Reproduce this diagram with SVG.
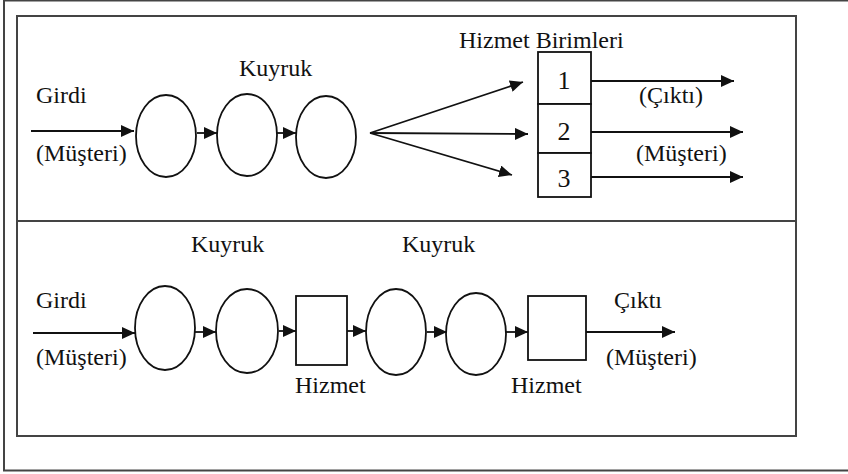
<svg xmlns="http://www.w3.org/2000/svg" width="848" height="474" viewBox="0 0 848 474">
<style>
.t{font-family:"Liberation Serif","Times New Roman",serif;font-size:24px;fill:#111}
.d{font-family:"Liberation Serif","Times New Roman",serif;font-size:26px;fill:#111;text-anchor:middle}
.s{fill:#fff;stroke:#111;stroke-width:1.8}
.c{fill:none;stroke:#111;stroke-width:1.8}
.f{fill:none;stroke:#444;stroke-width:2}
</style>
<defs>
<marker id="ah" viewBox="0 0 13 12" refX="13" refY="6" markerWidth="13" markerHeight="12" markerUnits="userSpaceOnUse" orient="auto">
<path d="M0,0 L13,6 L0,12 Z" fill="#111"/>
</marker>
</defs>
<rect width="848" height="474" fill="#fff"/>
<g id="frames">
<rect class="f" x="4" y="0.5" width="870" height="470"/>
<rect class="f" x="17" y="16" width="779" height="420" stroke="#222"/>
<line class="f" x1="17" y1="221" x2="796" y2="221" stroke="#222"/>
</g>
<g id="connectors">
<line class="c" x1="31" y1="131" x2="134" y2="131" marker-end="url(#ah)"/>
<line class="c" x1="197" y1="133" x2="217" y2="133" marker-end="url(#ah)"/>
<line class="c" x1="277" y1="133" x2="296" y2="133" marker-end="url(#ah)"/>
<line class="c" x1="370" y1="133" x2="523" y2="82" marker-end="url(#ah)"/>
<line class="c" x1="370" y1="133" x2="528" y2="134" marker-end="url(#ah)"/>
<line class="c" x1="370" y1="133" x2="512" y2="175" marker-end="url(#ah)"/>
<line class="c" x1="591" y1="81" x2="734" y2="81" marker-end="url(#ah)"/>
<line class="c" x1="591" y1="132" x2="743" y2="132" marker-end="url(#ah)"/>
<line class="c" x1="591" y1="177" x2="743" y2="177" marker-end="url(#ah)"/>
<line class="c" x1="33" y1="333" x2="135" y2="333" marker-end="url(#ah)"/>
<line class="c" x1="195" y1="332" x2="216" y2="332" marker-end="url(#ah)"/>
<line class="c" x1="279" y1="331" x2="296" y2="331" marker-end="url(#ah)"/>
<line class="c" x1="347" y1="331" x2="366" y2="331" marker-end="url(#ah)"/>
<line class="c" x1="427" y1="332" x2="447" y2="332" marker-end="url(#ah)"/>
<line class="c" x1="506" y1="332" x2="528" y2="332" marker-end="url(#ah)"/>
<line class="c" x1="586" y1="332" x2="675" y2="332" marker-end="url(#ah)"/>
</g>
<g id="labels-top">
<text class="t" x="36" y="103">Girdi</text>
<text class="t" x="36" y="161">(Müşteri)</text>
<text class="t" x="239" y="76">Kuyruk</text>
<text class="t" x="459" y="48">Hizmet Birimleri</text>
<text class="t" x="639" y="103">(Çıktı)</text>
<text class="t" x="636" y="161">(Müşteri)</text>
</g>
<g id="q1"><ellipse class="s" cx="166" cy="136" rx="30" ry="41"/></g>
<g id="q2"><ellipse class="s" cx="247" cy="135" rx="30" ry="41"/></g>
<g id="q3"><ellipse class="s" cx="326" cy="137" rx="30" ry="41"/></g>
<g id="servers">
<rect class="s" x="538" y="52" width="53" height="52"/>
<rect class="s" x="538" y="104" width="53" height="49"/>
<rect class="s" x="538" y="153" width="53" height="44"/>
<text class="d" x="564" y="89">1</text>
<text class="d" x="564" y="140">2</text>
<text class="d" x="564" y="187">3</text>
</g>
<g id="labels-bottom">
<text class="t" x="36" y="308">Girdi</text>
<text class="t" x="36" y="365">(Müşteri)</text>
<text class="t" x="191" y="252">Kuyruk</text>
<text class="t" x="402" y="252">Kuyruk</text>
<text class="t" x="614" y="308">Çıktı</text>
<text class="t" x="606" y="365">(Müşteri)</text>
</g>
<g id="b-q1"><ellipse class="s" cx="165" cy="328" rx="30" ry="42"/></g>
<g id="b-q2"><ellipse class="s" cx="247" cy="331" rx="31" ry="42"/></g>
<g id="b-s1"><rect class="s" x="296" y="296" width="51" height="69"/><text class="t" x="295" y="393">Hizmet</text></g>
<g id="b-q3"><ellipse class="s" cx="396" cy="332" rx="30" ry="43"/></g>
<g id="b-q4"><ellipse class="s" cx="476" cy="334" rx="30" ry="41"/></g>
<g id="b-s2"><rect class="s" x="528" y="296" width="58" height="64"/><text class="t" x="511" y="393">Hizmet</text></g>
</svg>
